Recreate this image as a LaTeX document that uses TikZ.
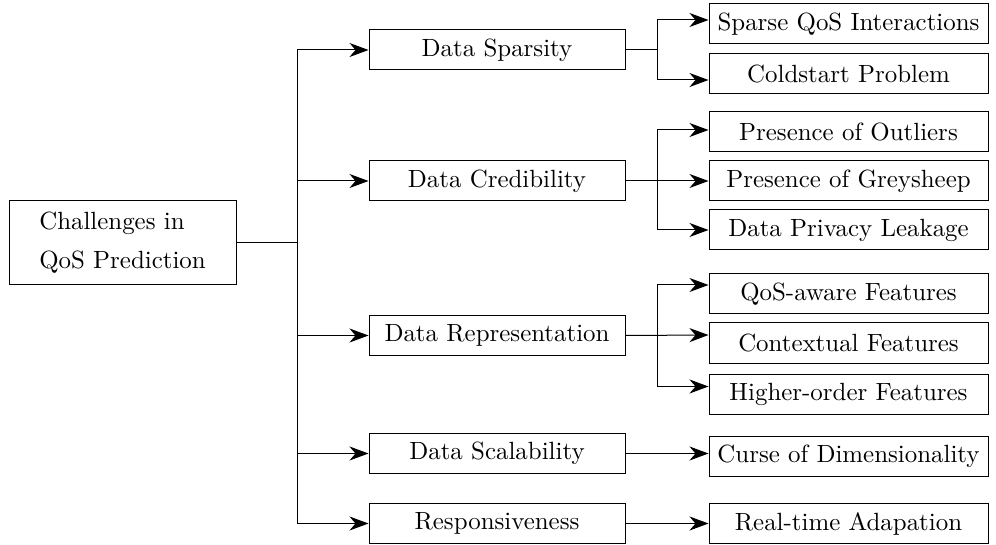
\documentclass[tikz,border=0pt]{standalone}
\usepackage{fontspec}
% the 10pt design of Latin Modern, scaled up
\setmainfont{lmroman10-regular}[Extension=.otf]
\usetikzlibrary{arrows.meta,calc}
\begin{document}
\begin{tikzpicture}[x=1pt,y=-1pt,
  every node/.style={font=\fontsize{24.9}{39}\selectfont},
  box/.style={draw,line width=1pt,inner sep=0pt,minimum height=40pt},
  midbox/.style={box,minimum width=256pt},
  leafbox/.style={box,minimum width=279pt},
  link/.style={line width=1pt},
  arr/.style={link,-{Stealth[length=19pt,width=14pt,inset=6pt]}}]
\useasboundingbox (0,0) rectangle (996,545);

% root
\node[box,minimum width=227pt,minimum height=84pt,align=left] (root) at (122.5,243)
  {Challenges in\\QoS Prediction};

% second level
\node[midbox] (ds)  at (497,50)    {Data Sparsity};
\node[midbox] (dc)  at (497,181)   {Data Credibility};
\node[midbox] (dr)  at (497,335.5) {Data Representation};
\node[midbox] (dsc) at (497,453.5) {Data Scalability};
\node[midbox] (rs)  at (497,523.5) {Responsiveness};

% leaves
\node[leafbox] (sqi) at (848.5,24)    {Sparse QoS Interactions};
\node[leafbox] (cp)  at (848.5,73.5)  {Coldstart Problem};
\node[leafbox] (po)  at (848.5,132)   {Presence of Outliers};
\node[leafbox] (pg)  at (848.5,181)   {Presence of Greysheep};
\node[leafbox] (dpl) at (848.5,230)   {Data Privacy Leakage};
\node[leafbox] (qa)  at (848.5,294)   {QoS-aware Features};
\node[leafbox] (cf)  at (848.5,343)   {Contextual Features};
\node[leafbox] (hf)  at (848.5,394.5) {Higher-order Features};
\node[leafbox] (cd)  at (848.5,456)   {Curse of Dimensionality};
\node[leafbox] (ra)  at (848.5,523.5) {Real-time Adapation};

% trunk from the root to the second level
\coordinate (trunk) at ($(root.east)+(61,0)$);
\draw[link] (root.east) -- (trunk);
\draw[arr] (trunk) |- (ds.west);
\draw[arr] (trunk) |- (dc.west);
\draw[arr] (trunk) |- (dr.west);
\draw[arr] (trunk) |- (dsc.west);
\draw[arr] (trunk) |- (rs.west);

% Data Sparsity branches
\coordinate (js) at ($(ds.east)+(32,0)$);
\draw[link] (ds.east) -- (js);
\draw[arr] (js) |- ([yshift=4pt]sqi.west);
\draw[arr] (js) |- ([yshift=-6.5pt]cp.west);

% Data Credibility branches
\coordinate (jc) at ($(dc.east)+(32,0)$);
\draw[arr] (dc.east) -- (pg.west);
\draw[arr] (jc) |- ([yshift=2pt]po.west);
\draw[arr] (jc) |- (dpl.west);

% Data Representation branches
\coordinate (jr) at ($(dr.east)+(32,0)$);
\draw[arr] (dr.east) -- ([yshift=8pt]cf.west);
\draw[arr] (jr) |- ([yshift=9pt]qa.west);
\draw[arr] (jr) |- ([yshift=8pt]hf.west);

% single branches
\draw[arr] (dsc.east) -- (dsc.east -| cd.west);
\draw[arr] (rs.east) -- (ra.west);
\end{tikzpicture}
\end{document}
